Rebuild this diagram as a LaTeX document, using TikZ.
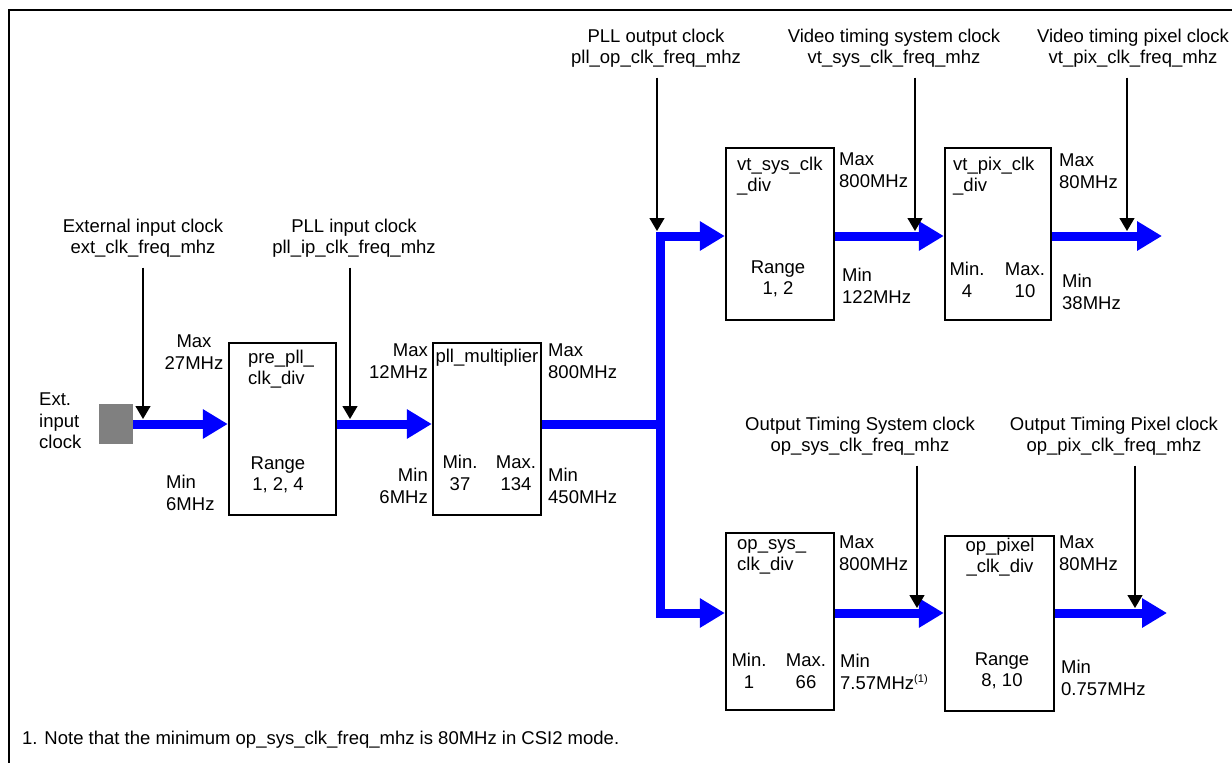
\documentclass[tikz,border=0pt]{standalone}
\usepackage{fontspec}
\setmainfont{Liberation Sans}
\usetikzlibrary{arrows.meta}

\begin{document}
\begin{tikzpicture}[x=1pt,y=-1pt,
    every node/.style={font=\fontsize{18.5}{21.5}\selectfont, inner sep=0pt},
    blk/.style={draw, line width=2.4pt, minimum width=108pt, minimum height=172pt},
    txt/.style={align=left},
    ctxt/.style={align=center},
    rtxt/.style={align=right},
    bus/.style={blue, line width=9pt},
    busarrow/.style={bus, -{Triangle[length=25pt,width=28pt]}},
    sig/.style={line width=1.3pt, shorten <=10pt, -{Triangle[length=13pt,width=15pt]}}]
    \useasboundingbox (0,0) rectangle (1232,763);
    \draw[line width=2.4pt] (9,763) -- (9,10) -- (1232,10);

    \coordinate (rowB) at (0,236);
    \coordinate (rowC) at (0,613);
    \coordinate (split) at (660,424);

    \node[fill=gray, minimum width=34pt, minimum height=40pt] (extsrc) at (116,424) {};
    \node[txt, anchor=west] (extname) at (39,421) {Ext.\\input\\clock};

    \node[blk, minimum width=107pt] (prediv) at (282.5,429) {};
    \node[blk] (pllmul) at (487,429) {};
    \node[blk] (vtsysdiv) at (780,234) {};
    \node[blk, minimum width=106pt] (vtpixdiv) at (998,234) {};
    \node[blk, minimum height=177pt] (opsysdiv) at (780,621.5) {};
    \node[blk, minimum width=109pt, minimum height=175pt] (oppixdiv) at (999.5,623.5) {};

    \node[txt, anchor=west] (prename) at (248,369) {pre\_pll\_\\clk\_div};
    \node[ctxt] (prerange) at (278,475) {Range\\1, 2, 4};
    \node (pllname) at (487,358) {pll\_multiplier};
    \node[ctxt] (pllmin) at (460,473) {Min.\\37};
    \node[ctxt] (pllmax) at (516,473) {Max.\\134};
    \node[txt, anchor=west] (vtsysname) at (737,176) {vt\_sys\_clk\\\_div};
    \node[ctxt] (vtsysrange) at (778,279) {Range\\1, 2};
    \node[txt, anchor=west] (vtpixname) at (953,176) {vt\_pix\_clk\\\_div};
    \node[ctxt] (vtpixmin) at (967,280) {Min.\\4};
    \node[ctxt] (vtpixmax) at (1025,280) {Max.\\10};
    \node[txt, anchor=west] (opsysname) at (737,557) {op\_sys\_\\clk\_div};
    \node[ctxt] (opsysmin) at (749,671) {Min.\\1};
    \node[ctxt] (opsysmax) at (806,671) {Max.\\66};
    \node[ctxt] (oppixname) at (1000,557) {op\_pixel\\\_clk\_div};
    \node[ctxt] (oppixrange) at (1002,671) {Range\\8, 10};

    \node[ctxt] (extmax) at (194,352) {Max\\27MHz};
    \node[txt, anchor=west] (extmin) at (166,493) {Min\\6MHz};
    \node[rtxt, anchor=east] (ipmax) at (428,361) {Max\\12MHz};
    \node[rtxt, anchor=east] (ipmin) at (428,486) {Min\\6MHz};
    \node[txt, anchor=west] (opmax) at (548,361) {Max\\800MHz};
    \node[txt, anchor=west] (opmin) at (548,486) {Min\\450MHz};
    \node[txt, anchor=west] (vsmax) at (839,170) {Max\\800MHz};
    \node[txt, anchor=west] (vsmin) at (842,286) {Min\\122MHz};
    \node[txt, anchor=west] (vpmax) at (1059,171) {Max\\80MHz};
    \node[txt, anchor=west] (vpmin) at (1062,292) {Min\\38MHz};
    \node[txt, anchor=west] (osmax) at (839,553) {Max\\800MHz};
    \node[txt, anchor=west] (osmin) at (840,672) {Min\\7.57MHz\raisebox{7pt}{\fontsize{11}{11}\selectfont(1)}};
    \node[txt, anchor=west] (ppmax) at (1059,553) {Max\\80MHz};
    \node[txt, anchor=west] (ppmin) at (1061,678) {Min\\0.757MHz};

    \node[ctxt] (extlbl) at (143,238) {External input clock\\ext\_clk\_freq\_mhz};
    \node[ctxt] (piplbl) at (354,238) {PLL input clock\\pll\_ip\_clk\_freq\_mhz};
    \node[ctxt] (poplbl) at (656,48) {PLL output clock\\pll\_op\_clk\_freq\_mhz};
    \node[ctxt] (vsyslbl) at (894,48) {Video timing system clock\\vt\_sys\_clk\_freq\_mhz};
    \node[ctxt] (vpixlbl) at (1133,48) {Video timing pixel clock\\vt\_pix\_clk\_freq\_mhz};
    \node[ctxt] (osyslbl) at (860,436) {Output Timing System clock\\op\_sys\_clk\_freq\_mhz};
    \node[ctxt] (opixlbl) at (1114,436) {Output Timing Pixel clock\\op\_pix\_clk\_freq\_mhz};

    \node[anchor=west] (note) at (22,740) {1. Note that the minimum op\_sys\_clk\_freq\_mhz is 80MHz in CSI2 mode.};

    \draw[busarrow] (extsrc) -- (prediv.west |- extsrc);
    \draw[busarrow] (prediv.east |- extsrc) -- (pllmul.west |- extsrc);
    \draw[bus] (pllmul.east |- split) -- (split);
    \draw[busarrow] (split) |- (vtsysdiv.west |- rowB);
    \draw[busarrow] (split) |- (opsysdiv.west |- rowC);
    \draw[busarrow] (vtsysdiv.east |- rowB) -- (vtpixdiv.west |- rowB);
    \draw[busarrow] (opsysdiv.east |- rowC) -- (oppixdiv.west |- rowC);
    \coordinate (vtout) at (1162,236);
    \coordinate (opout) at (1167,613);
    \draw[busarrow] (vtpixdiv.east |- rowB) -- (vtout);
    \draw[busarrow] (oppixdiv.east |- rowC) -- (opout);

    \coordinate (extin) at (143,419);
    \coordinate (pipin) at (350,419);
    \coordinate (popin) at (657,231);
    \coordinate (vsysin) at (915,231);
    \coordinate (vpixin) at (1127,231);
    \coordinate (osysin) at (917,608);
    \coordinate (opixin) at (1135,608);
    \draw[sig] (extlbl.south -| extin) -- (extin);
    \draw[sig] (piplbl.south -| pipin) -- (pipin);
    \draw[sig] (poplbl.south -| popin) -- (popin);
    \draw[sig] (vsyslbl.south -| vsysin) -- (vsysin);
    \draw[sig] (vpixlbl.south -| vpixin) -- (vpixin);
    \draw[sig] (osyslbl.south -| osysin) -- (osysin);
    \draw[sig] (opixlbl.south -| opixin) -- (opixin);
\end{tikzpicture}
\end{document}
